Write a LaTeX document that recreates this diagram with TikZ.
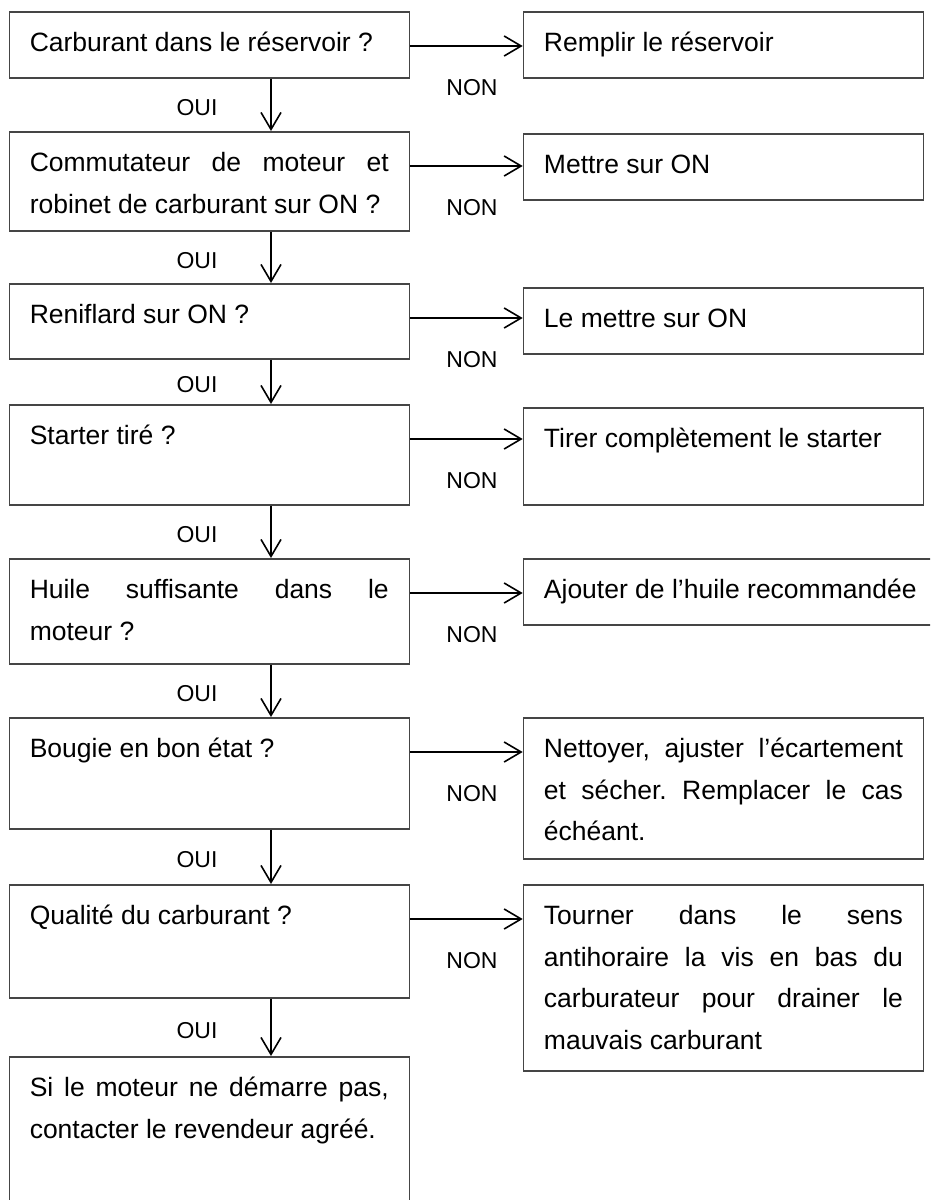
\documentclass[tikz,border=0pt]{standalone}
\usepackage{fontspec}
\setmainfont{Liberation Sans}
\usetikzlibrary{arrows.meta}
\definecolor{gristrait}{HTML}{454545}
\tikzset{
  boite/.style={rectangle, draw=gristrait, line width=1.5pt, anchor=north west, inner xsep=20.5pt, inner ysep=0pt, font=\fontsize{26.5pt}{41.6pt}\selectfont},
  reponse/.style={inner sep=0pt, font=\fontsize{23pt}{27pt}\selectfont},
  arrow/.style={line width=1.6pt, -{Straight Barb[length=17pt, width=20pt]}}
}
% texte justifie, cale en haut d'une boite de hauteur donnee
\newcommand{\boitetexte}[3][359pt]{%
  \parbox[t][#2][t]{#1}{\frenchspacing\tolerance=10000\relax\hyphenpenalty=10000\relax
  \rule{0pt}{40pt}#3}}

\begin{document}
\begin{tikzpicture}[x=1pt, y=-1pt]

    \useasboundingbox (0,0) rectangle (930,1200);
    \clip (0,0) rectangle (930,1200);

    % -------------------------------------------------------------
    % QUESTIONS (colonne de gauche)
    % -------------------------------------------------------------
    \node[boite] (q1) at (8.5, 11) {\boitetexte{66pt}{Carburant dans le réservoir ?}};
    \node[boite] (q2) at (8.5, 131) {\boitetexte{99pt}{Commutateur de moteur et\linebreak robinet de carburant sur ON ?}};
    \node[boite] (q3) at (8.5, 283) {\boitetexte{75pt}{Reniflard sur ON ?}};
    \node[boite] (q4) at (8.5, 404) {\boitetexte{100pt}{Starter tiré ?}};
    \node[boite] (q5) at (8.5, 558) {\boitetexte{105pt}{Huile suffisante dans le\linebreak moteur ?}};
    \node[boite] (q6) at (8.5, 717) {\boitetexte{111pt}{Bougie en bon état ?}};
    \node[boite] (q7) at (8.5, 884) {\boitetexte{113pt}{Qualité du carburant ?}};
    \node[boite] (q8) at (8.5, 1056) {\boitetexte{240pt}{Si le moteur ne démarre pas,\linebreak contacter le revendeur agréé.}};

    % -------------------------------------------------------------
    % REMEDES (colonne de droite)
    % -------------------------------------------------------------
    \node[boite] (r1) at (522.7, 11) {\boitetexte{66pt}{Remplir le réservoir}};
    \node[boite] (r2) at (522.7, 133) {\boitetexte{66pt}{Mettre sur ON}};
    \node[boite] (r3) at (522.7, 287) {\boitetexte{66pt}{Le mettre sur ON}};
    \node[boite] (r4) at (522.7, 407) {\boitetexte{97pt}{Tirer complètement le starter}};
    \node[boite] (r5) at (522.7, 558) {\boitetexte[380pt]{66pt}{Ajouter de l’huile recommandée}};
    \node[boite] (r6) at (522.7, 717) {\boitetexte{141pt}{Nettoyer, ajuster l’écartement\linebreak et sécher. Remplacer le cas\linebreak échéant.}};
    \node[boite] (r7) at (522.7, 884) {\boitetexte{186pt}{Tourner dans le sens\linebreak antihoraire la vis en bas du\linebreak carburateur pour drainer le\linebreak mauvais carburant}};

    % Branches NON vers la droite
    \foreach \i in {1,...,7} {
        \coordinate (n\i) at ([yshift=-35pt]q\i.north east);
        \draw[arrow] (n\i) -- (n\i -| r\i.west) node[reponse, pos=0.55, yshift=-42pt] {NON};
    }

    % Branches OUI vers le bas
    \foreach \i [count=\j from 2] in {1,...,7} {
        \draw[arrow] ([xshift=262.5pt]q\i.south west) -- ([xshift=262.5pt]q\j.north west) node[reponse, pos=0.56, xshift=-74pt] {OUI};
    }

\end{tikzpicture}
\end{document}
